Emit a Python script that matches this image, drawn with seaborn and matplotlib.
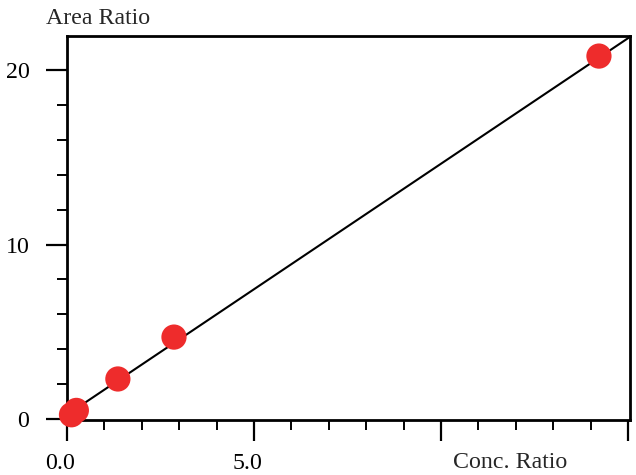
import matplotlib
matplotlib.use("Agg")
import matplotlib.pyplot as plt
import matplotlib.transforms as mtransforms
from matplotlib.ticker import FixedLocator, MultipleLocator
import seaborn as sns
import pandas as pd

# data
conc_ratio = [0.12, 0.25, 1.36, 2.86, 14.22]
area_ratio = [0.25, 0.5, 2.3, 4.7, 20.8]
fit_x = [0.0, 15.05]
fit_y = [0.25, 21.9]
x_major = [0.0, 5.0, 10.0, 15.0]
x_labels = ["0.0", "5.0", "", ""]
y_major = [0, 10, 20]
y_labels = ["0", "10", "20"]

sns.set_theme(style="white")
plt.rcParams["font.family"] = ["Liberation Serif", "DejaVu Serif"]

fig = plt.figure(figsize=(6.36, 4.75), dpi=100)
ax = fig.add_axes([67/636, 1 - 420/475, (630-67)/636, (420-36)/475])

pts = pd.DataFrame({"x": conc_ratio, "y": area_ratio})
fit = pd.DataFrame({"x": fit_x, "y": fit_y})
sns.lineplot(data=fit, x="x", y="y", ax=ax, color="black", linewidth=1.5, zorder=2)
sns.scatterplot(data=pts, x="x", y="y", ax=ax, color="#EE2C2C", s=330,
                edgecolor="none", zorder=3, clip_on=False)

ax.set_xlim(0, 15.05)
ax.set_ylim(-0.05, 21.95)
ax.set_xlabel("")
ax.set_ylabel("")

ax.xaxis.set_major_locator(FixedLocator(x_major))
ax.set_xticklabels(x_labels)
ax.xaxis.set_minor_locator(MultipleLocator(1.0))
ax.yaxis.set_major_locator(FixedLocator(y_major))
ax.set_yticklabels(y_labels)
ax.yaxis.set_minor_locator(MultipleLocator(2.0))

ax.tick_params(axis="both", which="major", direction="out", length=15, width=1.6,
               color="black", labelsize=17.2, labelcolor="black")
ax.tick_params(axis="both", which="minor", direction="out", length=7.5, width=1.4,
               color="black")
ax.tick_params(axis="x", which="both", bottom=True, pad=9)
ax.tick_params(axis="y", which="both", left=True, pad=12)

offset = mtransforms.ScaledTranslation(-7/100, 0, fig.dpi_scale_trans)
for lab in ax.get_xticklabels():
    lab.set_transform(lab.get_transform() + offset)

for side in ["left", "right", "top", "bottom"]:
    ax.spines[side].set_visible(True)
    ax.spines[side].set_color("black")
    ax.spines[side].set_linewidth(2.0)

fig.text(510/636, 1 - 463/475, "Conc. Ratio", fontsize=17.2, ha="center", va="center")
fig.text(46/636, 1 - 19/475, "Area Ratio", fontsize=17.2, ha="left", va="center")

fig.savefig("out.png", dpi=100, facecolor="white")
